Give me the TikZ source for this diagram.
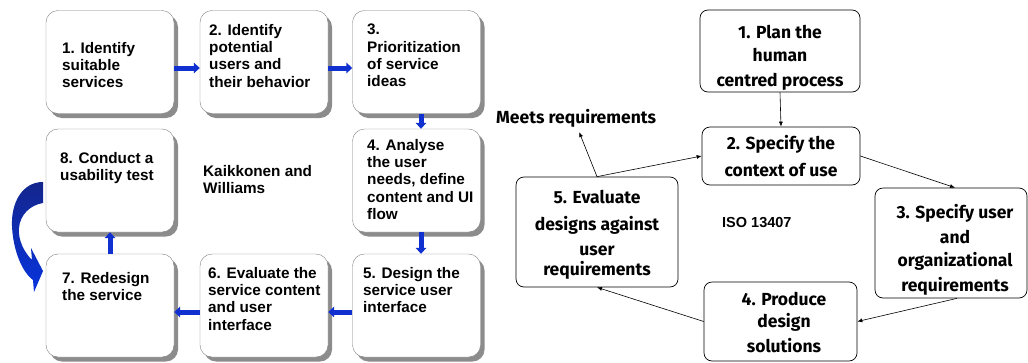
\documentclass[tikz,border=0pt]{standalone}
\usepackage{fontspec}
\setmainfont{Liberation Sans}
\newfontfamily\isofont{Fira Sans}
\usepackage{tikz}
\usetikzlibrary{positioning}
\usetikzlibrary{arrows.meta}
\usetikzlibrary{calc}
\definecolor{stepblue}{RGB}{16,48,208}
\definecolor{curvetop}{RGB}{20,38,140}
\definecolor{curvebot}{RGB}{8,52,222}

\begin{document}
\begin{tikzpicture}[x=1pt,y=-1pt,
        kwbox/.style={draw=gray, fill=white, rounded corners=12pt,
            minimum width=128pt, minimum height=103pt,
            preaction={fill=black!45, transform canvas={xshift=4pt, yshift=-4.5pt}}},
        kwtext/.style={anchor=north west, align=left, inner sep=0pt,
            font=\fontsize{15.3}{17.3}\selectfont\bfseries},
        kwarrow/.style={stepblue, line width=5pt, -{Triangle[width=10.5pt,length=6pt]}},
        isobox/.style={draw, line width=0.7pt, rounded corners=8pt, fill=white},
        isotext/.style={anchor=north, align=center, inner sep=0pt,
            font=\isofont\fontsize{17.5}{22}\selectfont\bfseries},
        isoarrow/.style={draw, line width=0.6pt, -{Latex[length=5pt,width=4pt]}}]
        \useasboundingbox (0,0) rectangle (1028,362);
        % Kaikkonen and Williams
        \node[kwbox] (b1) at (110,62) {};
        \node[kwbox] (b2) at (264,62) {};
        \node[kwbox] (b3) at (416.5,62) {};
        \node[kwbox] (b8) at (110,180.5) {};
        \node[kwbox] (b4) at (416.5,180.5) {};
        \node[kwbox] (b7) at (110,305.5) {};
        \node[kwbox] (b6) at (264,305.5) {};
        \node[kwbox] (b5) at (416.5,305.5) {};
        \node[kwtext] (t1) at (62,42) {1. Identify\\suitable\\services};
        \node[kwtext] (t2) at (209,24) {2. Identify\\potential\\users and\\their behavior};
        \node[kwtext] (t3) at (367,24) {3.\\Prioritization\\of service\\ideas};
        \node[kwtext] (t8) at (60,152) {8. Conduct a\\usability test};
        \node[kwtext] (t4) at (367,139) {4. Analyse\\the user\\needs, define\\content and UI\\flow};
        \node[kwtext] (t7) at (62,272) {7. Redesign\\the service};
        \node[kwtext] (t6) at (208,267) {6. Evaluate the\\service content\\and user\\interface};
        \node[kwtext] (t5) at (363,267) {5. Design the\\service user\\interface};
        \node[kwtext] (kw) at (203,165) {Kaikkonen and\\Williams};
        \draw[kwarrow] ($(b1.east)+(0,6)$) -- ($(b2.west)+(0,6)$);
        \draw[kwarrow] ($(b2.east)+(0,6)$) -- ($(b3.west)+(0,6)$);
        \draw[kwarrow] ($(b3.south)+(4.5,0)$) -- ($(b4.north)+(4.5,0)$);
        \draw[kwarrow] ($(b4.south)+(4.5,0)$) -- ($(b5.north)+(4.5,0)$);
        \draw[kwarrow] ($(b5.west)+(0,6.5)$) -- ($(b6.east)+(0,6.5)$);
        \draw[kwarrow] ($(b6.west)+(0,6.5)$) -- ($(b7.east)+(0,6.5)$);
        \draw[kwarrow] (b7.north) -- (b8.south);
        % back from 8 to 7
        \shade[top color=curvetop, bottom color=curvebot]
            (43,182) .. controls (22,182) and (11,203) .. (12,226)
            .. controls (13,250) and (22,272) .. (33,280)
            -- (34,292) -- (43,271) -- (31,248) -- (32,260)
            .. controls (24,252) and (18,240) .. (19,228)
            .. controls (20,215) and (30,205) .. (43,203) -- cycle;
        % ISO 13407
        \node[isobox, minimum width=160pt, minimum height=82pt] (r1) at (780,51) {};
        \node[isobox, minimum width=158pt, minimum height=58pt] (r2) at (781,156) {};
        \node[isobox, minimum width=152pt, minimum height=110pt] (r3) at (951,243) {};
        \node[isobox, minimum width=153pt, minimum height=79pt] (r4) at (780.5,321.5) {};
        \node[isobox, minimum width=162pt, minimum height=110pt] (r5) at (597,232) {};
        \node[isotext] (s1) at (780,25) {1. Plan the\\[1pt]human\\[3pt]centred process};
        \node[isotext] (s2) at (781,135) {2. Specify the\\[5pt]context of use};
        \node[isotext] (s3) at (955,204) {3. Specify user\\[3pt]and\\[1pt]organizational\\[3pt]requirements};
        \node[isotext] (s4) at (784,292) {4. Produce\\design\\[3pt]solutions};
        \node[isotext] (s5) at (597,190) {5. Evaluate\\[5pt]designs against\\[3pt]user\\[-2pt]requirements};
        \node[isotext, anchor=base west, inner sep=3pt] (meets) at (493,123) {Meets requirements};
        \node[anchor=base west, inner sep=0pt, font=\fontsize{14.5}{17}\selectfont\bfseries] (iso) at (722,227) {ISO 13407};
        \draw[isoarrow] (r1.south) -- (r2.north);
        \draw[isoarrow] (r5.north) -- ([xshift=3pt,yshift=-2pt]meets.south);
        \draw[isoarrow] (r5.north) -- (r2.west);
        \draw[isoarrow] (r2.east) -- ([xshift=4pt]r3.north);
        \draw[isoarrow] ([xshift=6pt]r3.south) -- (r4.east);
        \draw[isoarrow] (r4.west) -- (r5.south);
    \end{tikzpicture}
\end{document}
